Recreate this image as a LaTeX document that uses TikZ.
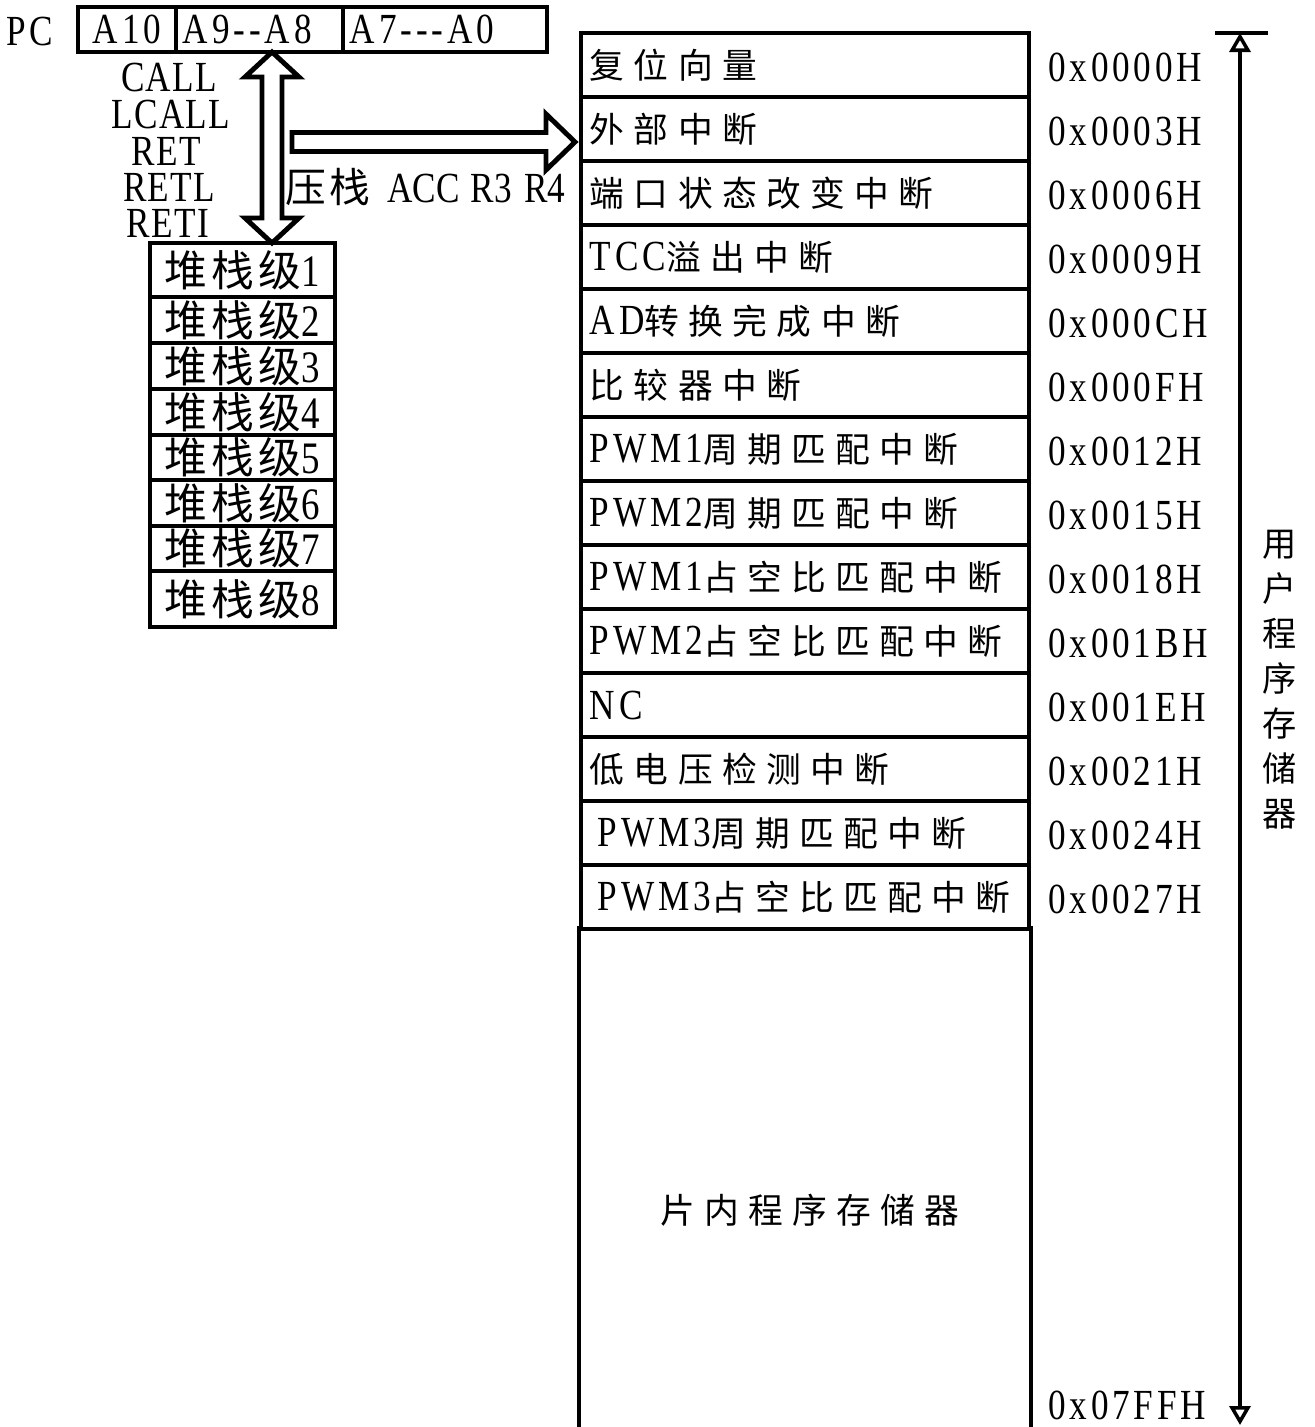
\documentclass[tikz,border=0pt]{standalone}
\usepackage{fontspec}
\setmainfont{Liberation Serif}[FakeStretch=0.82, LetterSpace=9]
\newfontfamily\zhfont{Noto Sans CJK SC}[Scale=0.81, LetterSpace=27]
\newfontfamily\zhwide{Noto Sans CJK SC}[Scale=0.95, LetterSpace=10]
\newcommand{\zh}[1]{{\zhfont #1}}
\newcommand{\zhw}[1]{{\zhwide #1}}
\usetikzlibrary{arrows.meta, calc}

\begin{document}
\begin{tikzpicture}[x=0.01cm, y=-0.01cm, font=\fontsize{12.2}{14}\selectfont, line width=1.2pt,
  cell/.style={draw, minimum height=0.45cm, inner sep=0},
  opname/.style={inner sep=0, text height=0.29cm, text depth=0cm, font=\fontsize{12.2}{14}\selectfont\addfontfeatures{LetterSpace=3}},
  stackrow/.style={draw, minimum width=1.85cm, minimum height=0.46cm, inner sep=0, font=\fontsize{12.8}{15}\selectfont},
  memrow/.style={draw, minimum height=0.64cm, text width=4.3cm, align=left, inner xsep=0.09cm, inner ysep=0},
  addr/.style={anchor=west, inner sep=0},
  blockarrow/.style={line width=1.4pt, line join=miter},
  >={Triangle[open, length=0.19cm, width=0.21cm]}]

\useasboundingbox (0,0) rectangle (1314,1427);

% PC register
\node[inner sep=0] (pclbl) at (30,32) {PC};
\node[cell, minimum width=0.98cm] (pc1) at (127,29.5) {A10};
\node[cell, minimum width=1.67cm, text width=1.53cm, align=left, inner xsep=0.07cm] (pc2) at (259.5,29.5) {A9-{}-A8};
\node[cell, minimum width=2.04cm, text width=1.90cm, align=left, inner xsep=0.07cm] (pc3) at (445,29.5) {A7-{}-{}-A0};

\node[opname] (call) at (169,77) {CALL};
\node[opname] (lcall) at (171,114) {LCALL};
\node[opname] (ret) at (166,151) {RET};
\node[opname] (retl) at (169,187) {RETL};
\node[opname] (reti) at (168,223) {RETI};
\node[anchor=west, inner sep=0, font=\fontsize{12.2}{14}\selectfont\addfontfeatures{LetterSpace=0}] (pushlbl) at (283,187) {\zhw{压栈}\hspace{0.08cm} ACC\hspace{0.02cm} R3\hspace{0.04cm} R4};

% stack levels
\node[stackrow, minimum height=0.54cm] (s1) at (242.5,270) {\zhw{堆栈级}1};
\node[stackrow] (s2) at (242.5,320) {\zhw{堆栈级}2};
\node[stackrow] (s3) at (242.5,366) {\zhw{堆栈级}3};
\node[stackrow] (s4) at (242.5,412) {\zhw{堆栈级}4};
\node[stackrow, minimum height=0.45cm] (s5) at (242.5,457.5) {\zhw{堆栈级}5};
\node[stackrow] (s6) at (242.5,503) {\zhw{堆栈级}6};
\node[stackrow, minimum height=0.45cm] (s7) at (242.5,548.5) {\zhw{堆栈级}7};
\node[stackrow, minimum height=0.56cm] (s8) at (242.5,599) {\zhw{堆栈级}8};

% bus arrows
\coordinate (busN) at (272,52);
\coordinate (busS) at (272,243);
\draw[blockarrow] (busN) -- ++(27,25) -- ++(-17,0) -- ($(busS)+(10,-25)$) -- ++(17,0) -- (busS)
  -- ++(-27,-25) -- ++(17,0) -- ($(busN)+(-10,25)$) -- ++(-17,0) -- cycle;

\coordinate (pushS) at (292,142);
\coordinate (pushE) at (575,142);
\draw[blockarrow] ($(pushS)+(0,-9.5)$) -- ($(pushE)+(-29,-9.5)$) -- ++(0,-18.5) -- (pushE)
  -- ($(pushE)+(-29,28)$) -- ++(0,-18.5) -- ($(pushS)+(0,9.5)$) -- cycle;

% program memory
\node[memrow] (r1) at (805,65) {\zh{复位向量}};
\node[memrow] (r2) at (805,129) {\zh{外部中断}};
\node[memrow] (r3) at (805,193) {\zh{端口状态改变中断}};
\node[memrow] (r4) at (805,257) {TCC\zh{溢出中断}};
\node[memrow] (r5) at (805,321) {AD\zh{转换完成中断}};
\node[memrow] (r6) at (805,385) {\zh{比较器中断}};
\node[memrow] (r7) at (805,449) {PWM1\zh{周期匹配中断}};
\node[memrow] (r8) at (805,513) {PWM2\zh{周期匹配中断}};
\node[memrow] (r9) at (805,577) {PWM1\zh{占空比匹配中断}};
\node[memrow] (r10) at (805,641) {PWM2\zh{占空比匹配中断}};
\node[memrow] (r11) at (805,705) {NC};
\node[memrow] (r12) at (805,769) {\zh{低电压检测中断}};
\node[memrow] (r13) at (805,833) {\hspace*{0.08cm}PWM3\zh{周期匹配中断}};
\node[memrow] (r14) at (805,897) {\hspace*{0.08cm}PWM3\zh{占空比匹配中断}};

\node[minimum width=4.48cm, minimum height=4.99cm, inner sep=0] (rom) at (805,1177.5) {};
\draw (rom.north west) -- (rom.south west);
\draw (rom.north east) -- (rom.south east);
\node (romlbl) at (810,1210) {\zh{片内程序存储器}};

\node[addr] (a1) at (1046,67) {0x0000H};
\node[addr] (a2) at (1046,131) {0x0003H};
\node[addr] (a3) at (1046,195) {0x0006H};
\node[addr] (a4) at (1046,259) {0x0009H};
\node[addr] (a5) at (1046,323) {0x000CH};
\node[addr] (a6) at (1046,387) {0x000FH};
\node[addr] (a7) at (1046,451) {0x0012H};
\node[addr] (a8) at (1046,515) {0x0015H};
\node[addr] (a9) at (1046,579) {0x0018H};
\node[addr] (a10) at (1046,643) {0x001BH};
\node[addr] (a11) at (1046,707) {0x001EH};
\node[addr] (a12) at (1046,771) {0x0021H};
\node[addr] (a13) at (1046,835) {0x0024H};
\node[addr] (a14) at (1046,899) {0x0027H};
\node[addr] (aend) at (1046,1405) {0x07FFH};

% address range
\coordinate (utop) at (1240,33);
\coordinate (ubot) at (1240,1425);
\draw[line width=1.3pt] ([xshift=-0.25cm]utop) -- ([xshift=0.28cm]utop);
\draw[line width=1pt, <->] (utop) -- (ubot);
\node[align=center, inner sep=0, font=\fontsize{12}{12.8}\selectfont] (userrom) at (1280,680) {\zh{用}\\\zh{户}\\\zh{程}\\\zh{序}\\\zh{存}\\\zh{储}\\\zh{器}};

\end{tikzpicture}
\end{document}
